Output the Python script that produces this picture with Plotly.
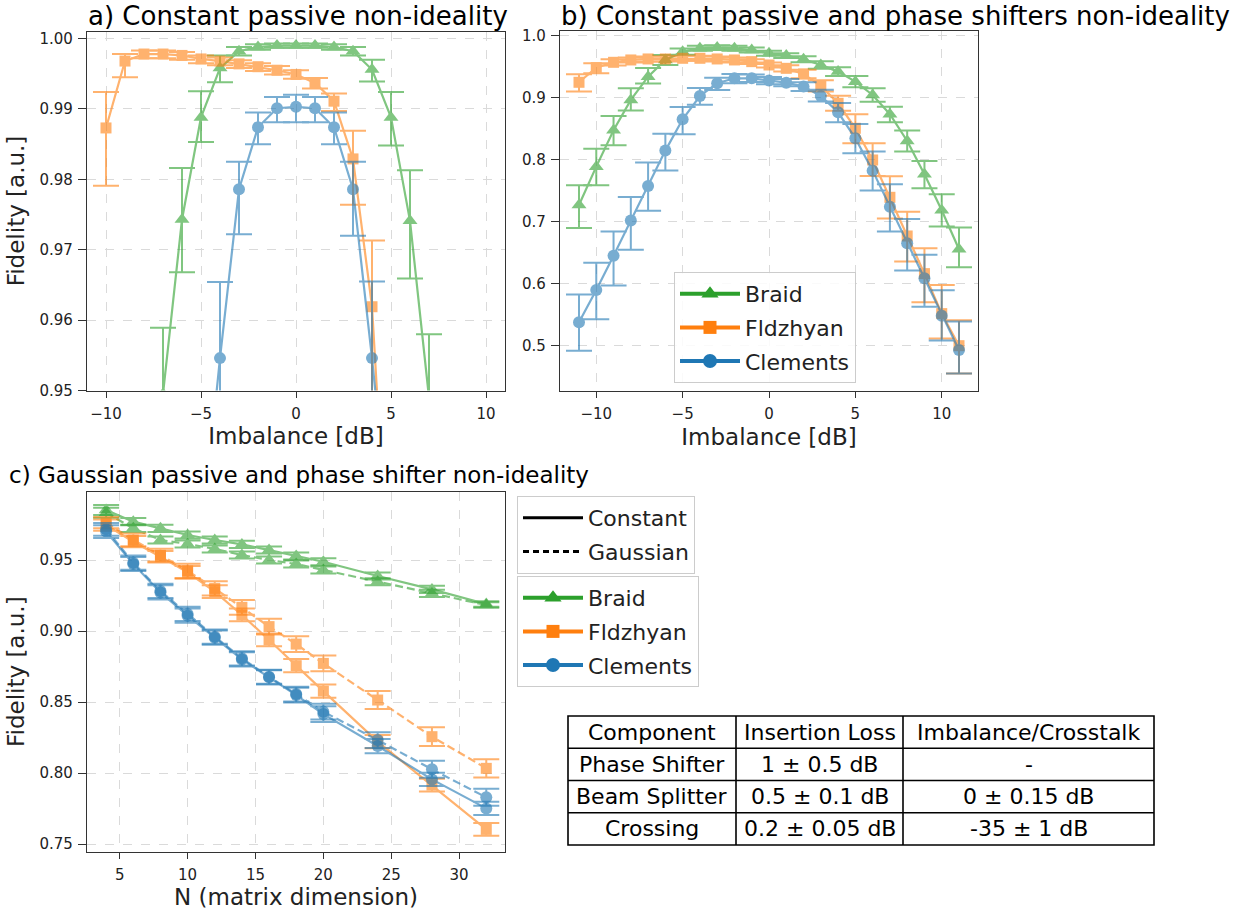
import plotly.graph_objects as go

GREEN = "#2ca02c"
ORANGE = "#ff7f0e"
BLUE = "#1f77b4"

# ---------------- Panel a: constant passive non-ideality ----------------
a_braid_x = [-7, -6, -5, -4, -3, -2, -1, 0, 1, 2, 3, 4, 5, 6, 7]
a_braid_y = [0.9495, 0.9743, 0.9888, 0.9958, 0.9982, 0.9988, 0.9990, 0.9990, 0.9990, 0.9988, 0.9982, 0.9956, 0.9888, 0.9741, 0.9490]
a_braid_up = [0.0094, 0.0073, 0.0037, 0.0018, 0.0006, 0.0004, 0.0003, 0.0003, 0.0003, 0.0004, 0.0006, 0.0014, 0.0036, 0.0072, 0.0090]
a_braid_dn = [0.0100, 0.0075, 0.0035, 0.0020, 0.0006, 0.0004, 0.0003, 0.0003, 0.0003, 0.0004, 0.0006, 0.0017, 0.0040, 0.0082, 0.0100]

a_fldz_x = [-10, -9, -8, -7, -6, -5, -4, -3, -2, -1, 0, 1, 2, 3, 4, 5]
a_fldz_y = [0.9873, 0.9968, 0.9978, 0.9978, 0.9976, 0.9971, 0.9968, 0.9964, 0.9960, 0.9955, 0.9949, 0.9937, 0.9911, 0.9829, 0.9619, 0.9160]
a_fldz_up = [0.0051, 0.0010, 0.0005, 0.0005, 0.0005, 0.0005, 0.0005, 0.0005, 0.0005, 0.0006, 0.0006, 0.0007, 0.0011, 0.0040, 0.0094, 0.0150]
a_fldz_dn = [0.0082, 0.0023, 0.0006, 0.0006, 0.0006, 0.0006, 0.0006, 0.0006, 0.0006, 0.0006, 0.0006, 0.0008, 0.0014, 0.0065, 0.0150, 0.0200]

a_clem_x = [-5, -4, -3, -2, -1, 0, 1, 2, 3, 4, 5]
a_clem_y = [0.9280, 0.9546, 0.9786, 0.9874, 0.9901, 0.9903, 0.9901, 0.9874, 0.9786, 0.9546, 0.9280]
a_clem_up = [0.0120, 0.0108, 0.0039, 0.0021, 0.0016, 0.0017, 0.0016, 0.0021, 0.0039, 0.0109, 0.0120]
a_clem_dn = [0.0120, 0.0120, 0.0064, 0.0024, 0.0020, 0.0022, 0.0020, 0.0024, 0.0066, 0.0120, 0.0120]

# ---------------- Panel b: constant passive + phase shifter ----------------
b_x = [-11, -10, -9, -8, -7, -6, -5, -4, -3, -2, -1, 0, 1, 2, 3, 4, 5, 6, 7, 8, 9, 10, 11]
b_braid_y = [0.7274, 0.7892, 0.8478, 0.8968, 0.9344, 0.9613, 0.9747, 0.9801, 0.9812, 0.9801, 0.9774, 0.9720,
             0.9683, 0.9624, 0.9532, 0.9425, 0.9263, 0.9048, 0.8737, 0.8306, 0.7769, 0.7188, 0.6559]
b_braid_up = [0.032, 0.029, 0.023, 0.019, 0.014, 0.008, 0.005, 0.004, 0.004, 0.004, 0.004, 0.004,
              0.004, 0.005, 0.006, 0.007, 0.009, 0.011, 0.012, 0.017, 0.0215, 0.026, 0.035]
b_braid_dn = [0.037, 0.030, 0.024, 0.017, 0.011, 0.008, 0.005, 0.004, 0.004, 0.004, 0.004, 0.004,
              0.004, 0.005, 0.006, 0.007, 0.009, 0.011, 0.013, 0.017, 0.0226, 0.026, 0.029]

b_fldz_y = [0.9253, 0.9489, 0.9575, 0.9613, 0.9629, 0.9629, 0.9640, 0.9640, 0.9629, 0.9613, 0.9586, 0.9532,
            0.9478, 0.9387, 0.9194, 0.8914, 0.8511, 0.8000, 0.7398, 0.6774, 0.6167, 0.5522, 0.5005]
b_fldz_up = [0.013, 0.007, 0.005, 0.004, 0.004, 0.004, 0.004, 0.004, 0.004, 0.004, 0.004, 0.004,
             0.005, 0.007, 0.009, 0.012, 0.0226, 0.027, 0.034, 0.039, 0.041, 0.046, 0.041]
b_fldz_dn = [0.015, 0.009, 0.005, 0.004, 0.004, 0.004, 0.004, 0.004, 0.004, 0.004, 0.004, 0.004,
             0.005, 0.007, 0.009, 0.012, 0.0242, 0.026, 0.034, 0.041, 0.046, 0.040, 0.045]

b_clem_y = [0.5382, 0.5903, 0.6457, 0.7022, 0.7581, 0.8151, 0.8656, 0.9032, 0.9237, 0.9317, 0.9317, 0.9280,
            0.9247, 0.9183, 0.9032, 0.8769, 0.8349, 0.7828, 0.7247, 0.6656, 0.6091, 0.5489, 0.4935]
b_clem_up = [0.045, 0.044, 0.039, 0.038, 0.038, 0.027, 0.020, 0.013, 0.009, 0.007, 0.006, 0.006,
             0.006, 0.007, 0.010, 0.015, 0.023, 0.031, 0.036, 0.039, 0.038, 0.041, 0.046]
b_clem_dn = [0.046, 0.047, 0.048, 0.047, 0.040, 0.032, 0.024, 0.014, 0.011, 0.008, 0.006, 0.006,
             0.006, 0.007, 0.009, 0.016, 0.024, 0.032, 0.040, 0.044, 0.046, 0.040, 0.038]

# ---------------- Panel c: Gaussian vs constant, versus N ----------------
c_n = [4, 6, 8, 10, 12, 14, 16, 18, 20, 24, 28, 32]
c_braid_const = [0.9852, 0.9770, 0.9723, 0.9676, 0.9641, 0.9610, 0.9570, 0.9528, 0.9488, 0.9387, 0.9293, 0.9190]
c_braid_gauss = [0.9833, 0.9723, 0.9641, 0.9613, 0.9578, 0.9535, 0.9500, 0.9472, 0.9430, 0.9347, 0.9265, 0.9183]
c_braid_err = [0.0035, 0.0025, 0.0025, 0.0025, 0.0025, 0.0025, 0.0025, 0.0025, 0.0025, 0.0025, 0.0025, 0.0020]

c_fldz_const = [0.9746, 0.9629, 0.9523, 0.9413, 0.9277, 0.9113, 0.8937, 0.8756, 0.8577, 0.8221, 0.7915, 0.7603]
c_fldz_gauss = [0.9763, 0.9641, 0.9535, 0.9423, 0.9300, 0.9167, 0.9031, 0.8908, 0.8772, 0.8514, 0.8256, 0.8033]
c_fldz_err_c = [0.0040, 0.0040, 0.0040, 0.0045, 0.0045, 0.0045, 0.0045, 0.0047, 0.0047, 0.0047, 0.0045, 0.0045]
c_fldz_err_g = [0.0040, 0.0045, 0.0045, 0.0050, 0.0050, 0.0052, 0.0055, 0.0055, 0.0055, 0.0064, 0.0066, 0.0064]

c_clem_const = [0.9700, 0.9472, 0.9272, 0.9108, 0.8953, 0.8800, 0.8674, 0.8549, 0.8415, 0.8190, 0.7955, 0.7751]
c_clem_gauss = [0.9716, 0.9481, 0.9282, 0.9120, 0.8960, 0.8808, 0.8678, 0.8556, 0.8432, 0.8232, 0.8026, 0.7829]
c_clem_err_c = [0.0045, 0.0050, 0.0050, 0.0050, 0.0050, 0.0050, 0.0050, 0.0052, 0.0055, 0.0050, 0.0047, 0.0047]
c_clem_err_g = [0.0045, 0.0050, 0.0050, 0.0050, 0.0050, 0.0050, 0.0050, 0.0052, 0.0055, 0.0055, 0.0060, 0.0060]

# ---------------- Table ----------------
table_header = ["Component", "Insertion Loss", "Imbalance/Crosstalk"]
table_component = ["Phase Shifter", "Beam Splitter", "Crossing"]
table_loss = ["1 ± 0.5 dB", "0.5 ± 0.1 dB", "0.2 ± 0.05 dB"]
table_imb = ["-", "0 ± 0.15 dB", "-35 ± 1 dB"]

names = ["Braid", "Fldzhyan", "Clements"]
colors = [GREEN, ORANGE, BLUE]
symbols = ["triangle-up", "square", "circle"]
sizes = [13, 11, 12]

FONT = "DejaVu Sans"
W, H = 1250, 913
TXT = "#222222"

fig = go.Figure()


def add_series(x, y, up, dn, color, symbol, size, xa, ya, dash="solid"):
    fig.add_trace(go.Scatter(
        x=x, y=y, mode="lines+markers", xaxis=xa, yaxis=ya, showlegend=False,
        opacity=0.6, cliponaxis=True,
        line=dict(color=color, width=2.2, dash=dash),
        marker=dict(symbol=symbol, size=size, color=color, line=dict(width=0)),
        error_y=dict(type="data", symmetric=False, array=up, arrayminus=dn,
                     color=color, thickness=2, width=13),
    ))


# panel a
add_series(a_braid_x, a_braid_y, a_braid_up, a_braid_dn, GREEN, "triangle-up", 13, "x", "y")
add_series(a_fldz_x, a_fldz_y, a_fldz_up, a_fldz_dn, ORANGE, "square", 11, "x", "y")
add_series(a_clem_x, a_clem_y, a_clem_up, a_clem_dn, BLUE, "circle", 12, "x", "y")

# panel b
add_series(b_x, b_braid_y, b_braid_up, b_braid_dn, GREEN, "triangle-up", 13, "x2", "y2")
add_series(b_x, b_fldz_y, b_fldz_up, b_fldz_dn, ORANGE, "square", 11, "x2", "y2")
add_series(b_x, b_clem_y, b_clem_up, b_clem_dn, BLUE, "circle", 12, "x2", "y2")

# panel c
DASH = "8px,4px"
add_series(c_n, c_braid_const, c_braid_err, c_braid_err, GREEN, "triangle-up", 13, "x3", "y3")
add_series(c_n, c_braid_gauss, c_braid_err, c_braid_err, GREEN, "triangle-up", 13, "x3", "y3", DASH)
add_series(c_n, c_fldz_const, c_fldz_err_c, c_fldz_err_c, ORANGE, "square", 11, "x3", "y3")
add_series(c_n, c_fldz_gauss, c_fldz_err_g, c_fldz_err_g, ORANGE, "square", 11, "x3", "y3", DASH)
add_series(c_n, c_clem_const, c_clem_err_c, c_clem_err_c, BLUE, "circle", 12, "x3", "y3")
add_series(c_n, c_clem_gauss, c_clem_err_g, c_clem_err_g, BLUE, "circle", 12, "x3", "y3", DASH)

# legend entries (full opacity handles)
gi = 0
for leg in ["legend", "legend3"]:
    for nm, col, sym, sz in zip(names, colors, symbols, sizes):
        gi += 1
        fig.add_trace(go.Scatter(
            x=[None], y=[None], mode="lines+markers", name=nm, legend=leg, legendgroup="g%d" % gi,
            xaxis="x2" if leg == "legend" else "x3", yaxis="y2" if leg == "legend" else "y3",
            line=dict(color=col, width=4), marker=dict(symbol=sym, size=sz + 2, color=col),
        ))
for nm, dsh in [("Constant", "solid"), ("Gaussian", "6px,4px")]:
    gi += 1
    fig.add_trace(go.Scatter(
        x=[None], y=[None], mode="lines", name=nm, legend="legend2", legendgroup="g%d" % gi,
        xaxis="x3", yaxis="y3", line=dict(color="black", width=3, dash=dsh),
    ))

AX = dict(showline=True, mirror=True, linecolor="#333333", linewidth=1.3, automargin=False,
          ticks="outside", tickwidth=1.3, tickcolor="#333333",
          showgrid=True, gridcolor="#dadada", griddash="dash", gridwidth=1,
          zeroline=False, tickfont=dict(family=FONT, size=15, color=TXT),
          title_font=dict(family=FONT, size=23, color=TXT))
XT = dict(ticklen=6, ticklabelstandoff=3)
YT = dict(ticklen=8, ticklabelstandoff=2)

LEG = dict(xanchor="left", yanchor="top", borderwidth=1, bordercolor="#cccccc",
           itemwidth=60, tracegroupgap=2,
           font=dict(family=FONT, size=22, color=TXT))

fig.update_layout(
    width=W, height=H, margin=dict(l=0, r=0, t=0, b=0, autoexpand=False),
    paper_bgcolor="white", plot_bgcolor="white",
    font=dict(family=FONT, color=TXT),
    xaxis=dict(AX, **XT, domain=[87 / W, 505 / W], range=[-11, 11], anchor="y",
               tickvals=[-10, -5, 0, 5, 10], title=dict(text="Imbalance [dB]", standoff=6)),
    yaxis=dict(AX, **YT, domain=[1 - 390.5 / H, 1 - 31.5 / H], range=[0.95, 1.001], anchor="x",
               tickvals=[0.95, 0.96, 0.97, 0.98, 0.99, 1.00], tickformat=".2f",
               title=dict(text="Fidelity [a.u.]", standoff=8)),
    xaxis2=dict(AX, **XT, domain=[560 / W, 978 / W], range=[-12.1, 12.1], anchor="y2",
                tickvals=[-10, -5, 0, 5, 10], title=dict(text="Imbalance [dB]", standoff=6)),
    yaxis2=dict(AX, **YT, domain=[1 - 391 / H, 1 - 31 / H], range=[0.4274, 1.008], anchor="x2",
                tickvals=[0.5, 0.6, 0.7, 0.8, 0.9, 1.0], tickformat=".1f"),
    xaxis3=dict(AX, **XT, domain=[87 / W, 505 / W], range=[2.59, 33.38], anchor="y3",
                tickvals=[5, 10, 15, 20, 25, 30], title=dict(text="N (matrix dimension)", standoff=6)),
    yaxis3=dict(AX, **YT, domain=[1 - 851.7 / H, 1 - 491.7 / H], range=[0.7446, 0.9981], anchor="x3",
                tickvals=[0.75, 0.80, 0.85, 0.90, 0.95], tickformat=".2f",
                title=dict(text="Fidelity [a.u.]", standoff=8)),
    legend=dict(LEG, x=674 / W, y=1 - 272 / H, bgcolor="rgba(255,255,255,0.85)"),
    legend2=dict(LEG, x=517 / W, y=1 - 496 / H, bgcolor="white"),
    legend3=dict(LEG, x=517 / W, y=1 - 576 / H, bgcolor="white"),
)

# panel titles: (text, left px, y paper, y anchor, font size)
titles = [("a) Constant passive non-ideality", 87, 1.0, "top", 26),
          ("b) Constant passive and phase shifters non-ideality", 560, 1.0, "top", 26),
          ("c) Gaussian passive and phase shifter non-ideality", 8, 1 - 475 / H, "middle", 23)]
for txt, px, yp, ya, fs in titles:
    fig.add_annotation(text=txt, xref="paper", yref="paper", x=px / W, y=yp,
                       xanchor="left", yanchor=ya, showarrow=False, borderpad=0,
                       font=dict(family=FONT, size=fs, color="black"))

# table drawn as ruled grid with centred cell texts
col_edges = [568, 736, 903, 1154]
row_edges = [716, 748.3, 780.5, 812.7, 845]
LW = 1.6
fig.add_shape(type="rect", xref="paper", yref="paper",
              x0=col_edges[0] / W, x1=col_edges[-1] / W, y0=1 - row_edges[-1] / H, y1=1 - row_edges[0] / H,
              line=dict(color="black", width=LW), fillcolor="white", layer="above")
for cx in col_edges[1:-1]:
    fig.add_shape(type="line", xref="paper", yref="paper", x0=cx / W, x1=cx / W,
                  y0=1 - row_edges[-1] / H, y1=1 - row_edges[0] / H, line=dict(color="black", width=LW))
for ry in row_edges[1:-1]:
    fig.add_shape(type="line", xref="paper", yref="paper", x0=col_edges[0] / W, x1=col_edges[-1] / W,
                  y0=1 - ry / H, y1=1 - ry / H, line=dict(color="black", width=LW))
table_cols = [[table_header[0]] + table_component,
              [table_header[1]] + table_loss,
              [table_header[2]] + table_imb]
for ci, col_vals in enumerate(table_cols):
    xc = (col_edges[ci] + col_edges[ci + 1]) / 2
    for ri, val in enumerate(col_vals):
        yc = (row_edges[ri] + row_edges[ri + 1]) / 2
        fig.add_annotation(text=val, xref="paper", yref="paper", x=xc / W, y=1 - yc / H,
                           xanchor="center", yanchor="middle", showarrow=False,
                           font=dict(family=FONT, size=22, color="black"))

fig.write_html("out.html", config={"displayModeBar": False},
               post_script="document.body.style.margin='0';")
